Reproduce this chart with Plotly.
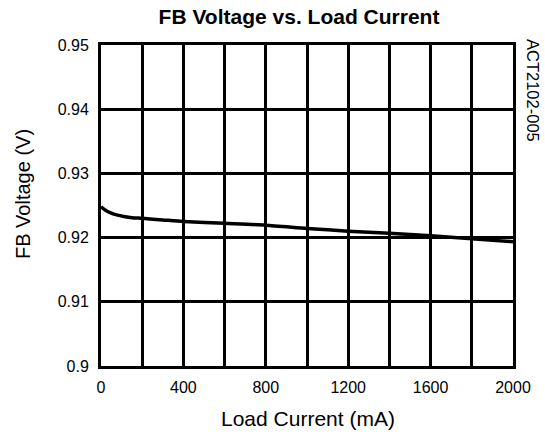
import plotly.graph_objects as go

# Data
load_current_ma = [0, 20, 50, 80, 110, 150, 200, 300, 400, 600, 800, 1000, 1200, 1400, 1600, 1800, 2000]
fb_voltage_v = [0.9248, 0.9243, 0.9238, 0.9235, 0.9233, 0.9231, 0.9230, 0.92275, 0.92250, 0.92222,
                0.92193, 0.92143, 0.92100, 0.92067, 0.92030, 0.91980, 0.91936]

x_tick_vals = [0, 400, 800, 1200, 1600, 2000]
x_tick_text = ["0", "400", "800", "1200", "1600", "2000"]
y_tick_vals = [0.9, 0.91, 0.92, 0.93, 0.94, 0.95]
y_tick_text = ["0.9", "0.91", "0.92", "0.93", "0.94", "0.95"]

W, H = 545, 437
L, R, T, B = 101, 32, 45, 71
W_plot = W - L - R
H_plot = H - T - B

font_family = "Liberation Sans, Arial, sans-serif"

fig = go.Figure()
fig.add_trace(go.Scatter(
    x=load_current_ma, y=fb_voltage_v, mode="lines",
    line=dict(color="black", width=3.5, shape="spline", smoothing=0.6),
    showlegend=False, hoverinfo="skip",
))

fig.update_layout(
    width=W, height=H,
    margin=dict(l=L, r=R, t=T, b=B),
    paper_bgcolor="white", plot_bgcolor="white",
    font=dict(family=font_family, color="black", size=16),
    title=dict(text="<b>FB Voltage vs. Load Current</b>", x=(156 + 442) / 2 / W, xanchor="center",
               y=1 - 17 / H, yanchor="middle", yref="container", xref="container",
               font=dict(size=21, family=font_family, color="black")),
    xaxis=dict(range=[0, 2000], tickvals=x_tick_vals, ticktext=x_tick_text,
               showgrid=True, gridcolor="black", gridwidth=3,
               minor=dict(dtick=200, tick0=0, showgrid=True, gridcolor="black", gridwidth=3),
               showline=True, linecolor="black", linewidth=3, mirror=True,
               ticks="", ticklabelstandoff=5, zeroline=False,
               tickfont=dict(size=16, family=font_family, color="black")),
    yaxis=dict(range=[0.9, 0.95], tickvals=y_tick_vals, ticktext=y_tick_text,
               showgrid=True, gridcolor="black", gridwidth=3,
               showline=True, linecolor="black", linewidth=3, mirror=True,
               ticks="", ticklabelstandoff=6, zeroline=False,
               tickfont=dict(size=16, family=font_family, color="black")),
)


def px_to_paper_x(px):
    return (px - L) / W_plot


def px_to_paper_y(py):
    return (H - B - py) / H_plot


fig.add_annotation(text="Load Current (mA)", x=px_to_paper_x(308), y=px_to_paper_y(419), xref="paper", yref="paper",
                   xanchor="center", yanchor="middle",
                   showarrow=False, font=dict(size=21, family=font_family, color="black"))
fig.add_annotation(text="FB Voltage (V)", x=px_to_paper_x(23), y=px_to_paper_y(194), xref="paper", yref="paper",
                   xanchor="center", yanchor="middle",
                   textangle=-90, showarrow=False, font=dict(size=20, family=font_family, color="black"))
fig.add_annotation(text="ACT2102-005", x=px_to_paper_x(533), y=px_to_paper_y(90), xref="paper", yref="paper",
                   xanchor="center", yanchor="middle",
                   textangle=90, showarrow=False, font=dict(size=16.5, family=font_family, color="black"))

fig.write_html("out.html", config={"displayModeBar": False},
               post_script="document.body.style.margin='0';")
